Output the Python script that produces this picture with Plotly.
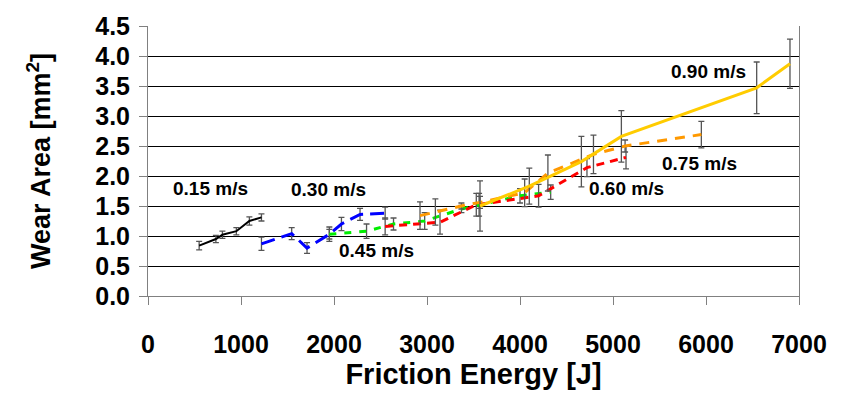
import plotly.graph_objects as go

# ---- data ----
black_E = [550, 730, 800, 950, 1090, 1220]
black_W = [0.84, 0.95, 1.02, 1.08, 1.25, 1.31]
black_err = [0.07, 0.06, 0.06, 0.06, 0.07, 0.06]

blue_E = [1220, 1545, 1710, 1950, 2080, 2280, 2550]
blue_W = [0.87, 1.04, 0.80, 1.03, 1.20, 1.36, 1.38]
blue_err = [0.11, 0.10, 0.09, 0.12, 0.11, 0.10, 0.10]

green_E = [1950, 2350, 2640, 2975, 3370, 3560, 4000, 4330]
green_W = [1.03, 1.08, 1.20, 1.25, 1.45, 1.52, 1.67, 1.73]
green_err = [0.08, 0.12, 0.10, 0.14, 0.06, 0.19, 0.12, 0.12]

red_E = [2550, 3140, 3530, 4200, 4720, 5140]
red_W = [1.16, 1.23, 1.52, 1.67, 2.14, 2.31]
red_err = [0.14, 0.20, 0.19, 0.19, 0.15, 0.19]

orange_E = [2925, 3090, 3370, 3570, 4050, 4300, 4790, 5130, 5950]
orange_W = [1.34, 1.40, 1.50, 1.56, 1.72, 2.05, 2.36, 2.50, 2.69]
orange_err = [0.23, 0.22, 0.05, 0.10, 0.23, 0.30, 0.32, 0.10, 0.22]

yellow_E = [3570, 4100, 4660, 5090, 6545, 6903]
yellow_W = [1.50, 1.83, 2.24, 2.66, 3.47, 3.87]
yellow_err = [0.42, 0.30, 0.42, 0.43, 0.43, 0.41]

labels = ["0.15 m/s", "0.30 m/s", "0.45 m/s", "0.60 m/s", "0.75 m/s", "0.90 m/s"]
label_E = [667, 1946, 2462, 5150, 5935, 6022]
label_W = [1.79, 1.77, 0.755, 1.79, 2.21, 3.75]

series = [
    (black_E, black_W, black_err, "#000000", "solid", 2),
    (blue_E, blue_W, blue_err, "#0000FF", "14px,7px", 3),
    (green_E, green_W, green_err, "#00EE00", "7px,8px", 3),
    (red_E, red_W, red_err, "#FF0000", "8px,6px", 3),
    (orange_E, orange_W, orange_err, "#FF9900", "10px,8px", 3),
    (yellow_E, yellow_W, yellow_err, "#FFCC00", "solid", 3),
]

FONT = "Liberation Sans, Arial, sans-serif"

fig = go.Figure()
for (E, W, err, col, dash, wd), name in zip(series, labels):
    fig.add_trace(go.Scatter(
        x=E, y=W, mode="lines", name=name,
        line=dict(color=col, width=wd, dash=dash),
        error_y=dict(type="data", array=err, visible=True,
                     color="#555555", thickness=1.3, width=3),
        showlegend=False,
    ))

for t, e, w in zip(labels, label_E, label_W):
    fig.add_annotation(x=e, y=w, text="<b>%s</b>" % t, showarrow=False,
                       font=dict(family=FONT, size=19, color="#000000"))

fig.update_layout(
    width=845, height=397,
    margin=dict(l=148, r=46, t=19, b=101),
    paper_bgcolor="white", plot_bgcolor="white",
    font=dict(family=FONT, color="#000000"),
)
fig.update_xaxes(
    range=[0, 7000], dtick=1000, tick0=0,
    showgrid=False, zeroline=False,
    showline=True, linecolor="#808080", linewidth=1,
    ticks="outside", ticklen=8, tickcolor="#808080",
    tickfont=dict(family=FONT, size=25, color="#000000", weight="bold"),
    ticklabelstandoff=18,
    title=dict(text="<b>Friction Energy [J]</b>", font=dict(family=FONT, size=29), standoff=2),
)
fig.update_yaxes(
    range=[0, 4.5], dtick=0.5, tick0=0, tickformat=".1f",
    showgrid=True, gridcolor="#000000", gridwidth=1,
    zeroline=False,
    showline=True, linecolor="#808080", linewidth=1, mirror=True,
    ticks="outside", ticklen=8, tickcolor="#808080",
    tickfont=dict(family=FONT, size=25, color="#000000", weight="bold"),
    ticklabelstandoff=4,
    title=dict(text="<b>Wear Area [mm<sup>2</sup>]</b>", font=dict(family=FONT, size=27), standoff=36),
)

fig.write_html("out.html")
